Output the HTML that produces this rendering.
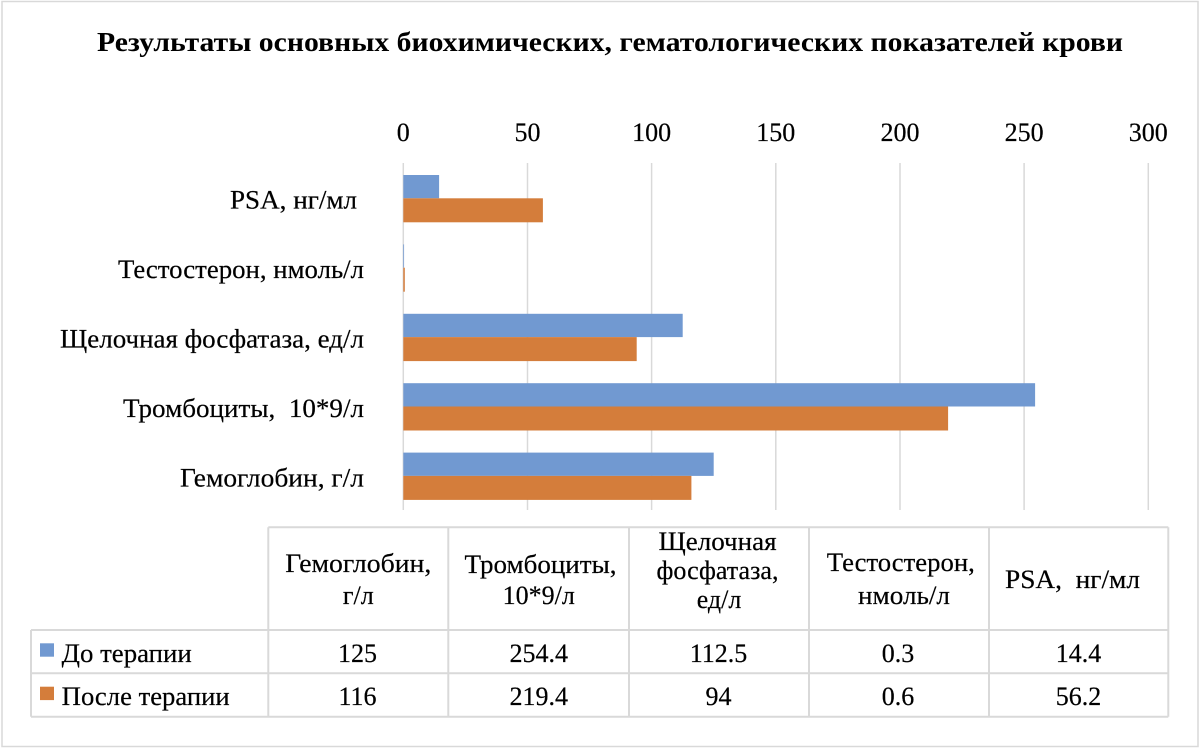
<!DOCTYPE html>
<html><head><meta charset="utf-8"><style>
html,body{margin:0;padding:0;background:#fff;}
svg{display:block;font-family:"Liberation Serif","DejaVu Serif",serif;}
svg text{font-family:"Liberation Serif","DejaVu Serif",serif;fill:#000;}
</style></head><body>
<svg width="1200" height="748" viewBox="0 0 1200 748" xmlns="http://www.w3.org/2000/svg" font-family="'Liberation Serif', 'DejaVu Serif', serif">
<rect x="0" y="0" width="1200" height="748" fill="#fff"/>
<rect x="2" y="1.5" width="1196" height="745" fill="none" stroke="#d9d9d9" stroke-width="1.5"/>

<text x="610" y="51" font-size="27" font-weight="bold" text-anchor="middle" textLength="1026" lengthAdjust="spacingAndGlyphs">Результаты основных биохимических, гематологических показателей крови</text>

<!-- gridlines -->
<g stroke="#d9d9d9" stroke-width="1.5">
<line x1="403.3" y1="163" x2="403.3" y2="510"/>
<line x1="527.5" y1="163" x2="527.5" y2="510"/>
<line x1="651.6" y1="163" x2="651.6" y2="510"/>
<line x1="775.8" y1="163" x2="775.8" y2="510"/>
<line x1="900" y1="163" x2="900" y2="510"/>
<line x1="1024.1" y1="163" x2="1024.1" y2="510"/>
<line x1="1148.3" y1="163" x2="1148.3" y2="510"/>
</g>

<!-- tick labels -->
<g font-size="26" text-anchor="middle" stroke="#000" stroke-width="0.2">
<text x="403.3" y="141">0</text>
<text x="527.5" y="141">50</text>
<text x="651.6" y="141">100</text>
<text x="775.8" y="141">150</text>
<text x="900" y="141">200</text>
<text x="1024.1" y="141">250</text>
<text x="1148.3" y="141">300</text>
</g>

<!-- category labels -->
<g font-size="26" stroke="#000" stroke-width="0.2">
<text x="230" y="208.5" textLength="127" lengthAdjust="spacingAndGlyphs">PSA, нг/мл</text>
<text x="118" y="278" textLength="246" lengthAdjust="spacingAndGlyphs">Тестостерон, нмоль/л</text>
<text x="60" y="347.5" textLength="304" lengthAdjust="spacingAndGlyphs">Щелочная фосфатаза, ед/л</text>
<text x="123" y="416.8" xml:space="preserve" textLength="241" lengthAdjust="spacingAndGlyphs">Тромбоциты,  10*9/л</text>
<text x="180" y="486.5" textLength="184" lengthAdjust="spacingAndGlyphs">Гемоглобин, г/л</text>
</g>

<!-- bars -->
<g fill="#7199d1">
<rect x="403.3" y="175" width="35.8" height="23.3"/>
<rect x="403.3" y="244.4" width="0.75" height="23.3"/>
<rect x="403.3" y="313.8" width="279.4" height="23.3"/>
<rect x="403.3" y="383.2" width="631.8" height="23.3"/>
<rect x="403.3" y="452.6" width="310.4" height="23.3"/>
</g>
<g fill="#d47d3b">
<rect x="403.3" y="198.3" width="139.6" height="24"/>
<rect x="403.3" y="267.7" width="1.5" height="24"/>
<rect x="403.3" y="337.1" width="233.4" height="24"/>
<rect x="403.3" y="406.5" width="544.8" height="24"/>
<rect x="403.3" y="475.9" width="288.1" height="24"/>
</g>

<!-- data table -->
<g stroke="#d9d9d9" stroke-width="2" fill="none">
<line x1="268.3" y1="527.3" x2="1168.3" y2="527.3"/>
<line x1="31" y1="630" x2="1168.3" y2="630"/>
<line x1="31" y1="673.3" x2="1168.3" y2="673.3"/>
<line x1="31" y1="716.7" x2="1168.3" y2="716.7"/>
<line x1="31" y1="630" x2="31" y2="716.7"/>
<line x1="268.3" y1="527.3" x2="268.3" y2="716.7"/>
<line x1="448.3" y1="527.3" x2="448.3" y2="716.7"/>
<line x1="629" y1="527.3" x2="629" y2="716.7"/>
<line x1="809" y1="527.3" x2="809" y2="716.7"/>
<line x1="989" y1="527.3" x2="989" y2="716.7"/>
<line x1="1168.3" y1="527.3" x2="1168.3" y2="716.7"/>
</g>

<g font-size="26" text-anchor="middle" stroke="#000" stroke-width="0.2">
<text x="358.3" y="572" textLength="146" lengthAdjust="spacingAndGlyphs">Гемоглобин,</text>
<text x="358.3" y="604">г/л</text>
<text x="540.5" y="573" textLength="152" lengthAdjust="spacingAndGlyphs">Тромбоциты,</text>
<text x="538.7" y="604">10*9/л</text>
<text x="717.5" y="550" textLength="118" lengthAdjust="spacingAndGlyphs">Щелочная</text>
<text x="717.5" y="579" textLength="122" lengthAdjust="spacingAndGlyphs">фосфатаза,</text>
<text x="719" y="608">ед/л</text>
<text x="900.8" y="571" textLength="148" lengthAdjust="spacingAndGlyphs">Тестостерон,</text>
<text x="904" y="604" textLength="92" lengthAdjust="spacingAndGlyphs">нмоль/л</text>
<text x="1072.5" y="588" xml:space="preserve" textLength="135" lengthAdjust="spacingAndGlyphs">PSA,  нг/мл</text>
</g>

<rect x="40" y="643.3" width="14" height="13.4" fill="#7199d1"/>
<rect x="40" y="686.7" width="14" height="13.4" fill="#d47d3b"/>
<g font-size="26" stroke="#000" stroke-width="0.2">
<text x="61.7" y="662" textLength="130" lengthAdjust="spacingAndGlyphs">До терапии</text>
<text x="61.7" y="705" textLength="168" lengthAdjust="spacingAndGlyphs">После терапии</text>
</g>

<g font-size="26" text-anchor="middle" stroke="#000" stroke-width="0.2">
<text x="357.5" y="662">125</text>
<text x="538.7" y="662">254.4</text>
<text x="718.5" y="662">112.5</text>
<text x="898" y="662">0.3</text>
<text x="1078.5" y="662">14.4</text>
<text x="357.5" y="705">116</text>
<text x="538.7" y="705">219.4</text>
<text x="718.5" y="705">94</text>
<text x="898" y="705">0.6</text>
<text x="1078.5" y="705">56.2</text>
</g>
</svg>
</body></html>
